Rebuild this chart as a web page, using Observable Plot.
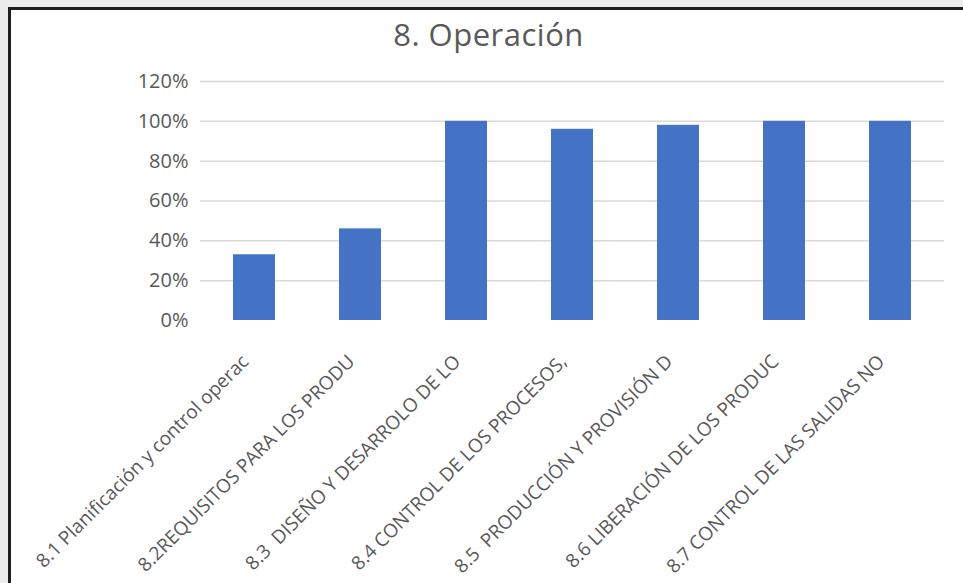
<!DOCTYPE html>
<html>
<head>
<meta charset="utf-8">
<script src="https://cdn.jsdelivr.net/npm/d3@7"></script>
<script src="https://cdn.jsdelivr.net/npm/@observablehq/plot@0.6"></script>
<style>
  html, body { margin: 0; padding: 0; width: 963px; height: 583px; overflow: hidden; background: #ececec; }
  #frame { position: absolute; left: 8px; top: 7px; width: 1100px; height: 700px; background: #fff; border-left: 3px solid #1e1e1e; border-top: 3px solid #1e1e1e; }
  #title { position: absolute; left: 0; width: 977px; top: 12px; text-align: center; font-family: "Open Sans", sans-serif; font-size: 31px; letter-spacing: 0.5px; color: #595959; margin: 0; font-weight: normal; line-height: 44px; }
  #chart { position: absolute; left: 0; top: 0; }
</style>
</head>
<body>
<div id="frame"></div>
<h1 id="title">8. Operación</h1>
<div id="chart"></div>
<script>
const categories = [
  "8.1 Planificación y control operac",
  "8.2REQUISITOS PARA LOS PRODU",
  "8.3  DISEÑO Y DESARROLO DE LO",
  "8.4 CONTROL DE LOS PROCESOS,",
  "8.5  PRODUCCIÓN Y PROVISIÓN D",
  "8.6 LIBERACIÓN DE LOS PRODUC",
  "8.7 CONTROL DE LAS SALIDAS NO"
];
const values = [0.33, 0.46, 1.00, 0.96, 0.98, 1.00, 1.00];
const yTicks = [0, 0.2, 0.4, 0.6, 0.8, 1.0, 1.2];

const data = categories.map((c, i) => ({category: c, value: values[i]}));

const chart = Plot.plot({
  width: 963,
  height: 583,
  marginLeft: 200,
  marginRight: 19,
  marginTop: 81,
  marginBottom: 263,
  style: { background: "transparent", fontFamily: "Open Sans, sans-serif", color: "#595959" },
  x: { domain: categories, paddingInner: 0.6, paddingOuter: 0.3, label: null },
  y: { domain: [0, 1.2], label: null },
  marks: [
    Plot.gridY(yTicks.filter(d => d > 0), { stroke: "#d9d9d9", strokeOpacity: 1, strokeWidth: 1.5 }),
    Plot.barY(data, { x: "category", y: "value", fill: "#4472C4" }),
    Plot.axisY({ ticks: yTicks, tickFormat: d => Math.round(d * 100) + "%", tickSize: 0, tickPadding: 12, fontSize: 20, fill: "#595959", label: null, style: { letterSpacing: "1.5px" } }),
    Plot.axisX({ tickSize: 0, tickPadding: 30, tickRotate: -45, fontSize: 19, fill: "#595959", label: null, dx: -9, dy: 8, style: { letterSpacing: "1.45px" } })
  ]
});
document.getElementById("chart").appendChild(chart);
</script>
</body>
</html>
